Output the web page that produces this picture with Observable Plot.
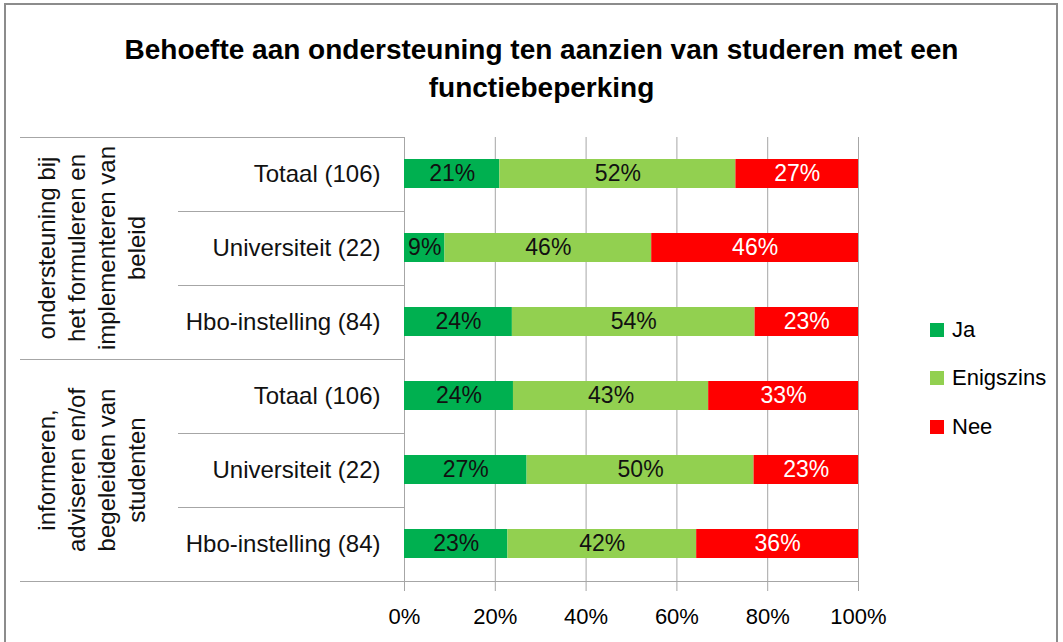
<!DOCTYPE html>
<html><head><meta charset="utf-8">
<script src="https://cdn.jsdelivr.net/npm/d3@7"></script>
<script src="https://cdn.jsdelivr.net/npm/@observablehq/plot@0.6"></script>
<style>
body{margin:0;background:#fff;font-family:"Liberation Sans",Arial,sans-serif;}
#wrap{position:relative;width:1063px;height:642px;overflow:hidden;background:#fff;}
#frame{position:absolute;left:4px;top:3px;width:1054px;height:700px;border:2px solid #8c8c8c;box-sizing:border-box;z-index:5;background:transparent;pointer-events:none}
#title{position:absolute;left:10px;width:1063px;top:31px;text-align:center;font-weight:bold;font-size:28px;line-height:38px;color:#000}
#chart{position:absolute;left:0;top:107px}
#legend{position:absolute;left:930px;top:0}
.li{position:absolute;left:0;height:30px;display:flex;align-items:center;white-space:nowrap;font-size:22px;color:#000}
.sw{width:14px;height:14px;margin-right:8px}
</style></head>
<body>
<div id="wrap">
  <div id="title">Behoefte aan ondersteuning ten aanzien van studeren met een<br>functiebeperking</div>
  <div id="chart"></div>
  <div id="legend"></div>
  <div id="frame"></div>
</div>
<script>
const groups = ["ondersteuning bij\nhet formuleren en\nimplementeren van\nbeleid", "informeren,\nadviseren en/of\nbegeleiden van\nstudenten"];
const categories = ["Totaal (106)", "Universiteit (22)", "Hbo-instelling (84)"];
const answers = ["Ja", "Enigszins", "Nee"];
const colors = ["#00B050", "#92D050", "#FF0000"];
// percentages per row (group 1: rows 0-2, group 2: rows 3-5)
const ja        = [21,  9, 24, 24, 27, 23];
const enigszins = [52, 46, 54, 43, 50, 42];
const nee       = [27, 46, 23, 33, 23, 36];
const xTicks = [0, 0.2, 0.4, 0.6, 0.8, 1];

const series = [ja, enigszins, nee];
const keys = [];
const catRows = [];
const groupRows = [];
groups.forEach((g, gi) => {
  categories.forEach((c, ci) => {
    const key = gi + "|" + c;
    keys.push(key);
    catRows.push({key, cat: c});
    if (ci === 1) groupRows.push({key, label: g});
  });
});
const rows = [];
keys.forEach((key, i) => answers.forEach((a, ai) => rows.push({key, answer: a, value: series[ai][i]})));

const font = "'Liberation Sans', Arial, sans-serif";
const stack = (o) => Plot.stackX({x: "value", y: "key", z: "answer", order: null, offset: "normalize", ...o});

const plot = Plot.plot({
  width: 1063, height: 535,
  marginLeft: 404, marginRight: 205, marginTop: 30, marginBottom: 61,
  style: {fontFamily: font, fontSize: "22px", color: "#000", background: "transparent", overflow: "visible"},
  x: {domain: [0, 1]},
  y: {domain: keys, paddingInner: 0.608, paddingOuter: 0.304, axis: null},
  color: {domain: answers, range: colors},
  marks: [
    Plot.gridX(xTicks, {stroke: "#a6a6a6", strokeOpacity: 1}),
    Plot.axisX(xTicks, {tickFormat: d => Math.round(d * 100) + "%", tickSize: 10, tickPadding: 17, stroke: "#a6a6a6", fill: "#000", label: null, fontSize: 22}),
    Plot.barX(rows, stack({fill: "answer"})),
    Plot.text(rows, stack({text: d => d.answer !== "Nee" ? d.value + "%" : null, fill: "#111", fontSize: 23})),
    Plot.text(rows, stack({text: d => d.answer === "Nee" ? d.value + "%" : null, fill: "#fff", fontSize: 23})),
    Plot.text(catRows, {y: "key", text: "cat", frameAnchor: "left", textAnchor: "end", dx: -24, fontSize: 24, fill: "#111"}),
    Plot.text(groupRows, {y: "key", text: "label", frameAnchor: "left", textAnchor: "middle", lineAnchor: "middle", rotate: -90, dx: -314, lineHeight: 1.25, fontSize: 24, fill: "#111"})
  ]
});
document.getElementById("chart").appendChild(plot);

// Excel-style multi-level category axis separators
const y = plot.scale("y");
const step = y.step, bw = y.bandwidth;
const svg = d3.select(plot);
const gap = (step - bw) / 2;
const left = 404, right = 858;
const lines = [];
keys.forEach((k, i) => {
  const top = y.apply(k) - gap;
  lines.push({x1: (i % 3 === 0) ? 20 : 178, x2: left, y: top});
});
const bottom = y.apply(keys[keys.length - 1]) + bw + gap;
lines.push({x1: 20, x2: right, y: bottom});
svg.append("g").selectAll("line").data(lines).join("line")
  .attr("x1", d => d.x1).attr("x2", d => d.x2)
  .attr("y1", d => Math.round(d.y) + 0.5).attr("y2", d => Math.round(d.y) + 0.5)
  .attr("stroke", "#a6a6a6");

// legend
const legend = d3.select("#legend");
const legendY = [330, 378, 427];
answers.forEach((a, i) => {
  const item = legend.append("div").attr("class", "li").style("top", (legendY[i] - 15) + "px");
  item.append("div").attr("class", "sw").style("background", colors[i]);
  item.append("span").text(a);
});
</script>
</body></html>
